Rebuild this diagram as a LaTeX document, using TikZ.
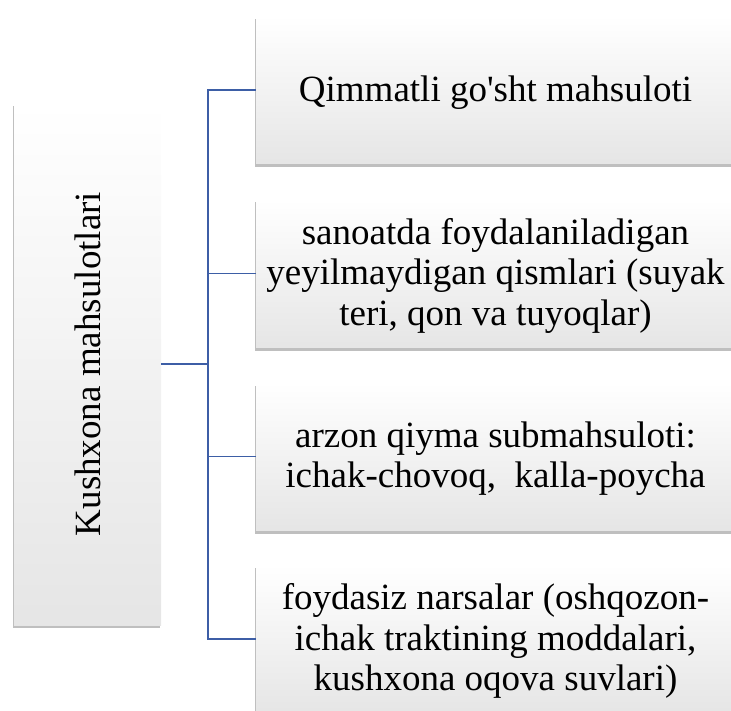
\documentclass[tikz,border=0pt]{standalone}
\usepackage{fontspec}
\setmainfont{Liberation Serif}
\usetikzlibrary{shadows}
\definecolor{linkblue}{HTML}{3D5EA6}
\tikzset{
  box/.style={draw=none, top color=white, bottom color=gray!20, inner sep=0pt,
    drop shadow={shadow xshift=-1.5pt, shadow yshift=-3pt, opacity=0.25, fill=black}},
  label/.style={font=\fontsize{37}{40.5}\selectfont, align=center},
  link/.style={draw=linkblue, line width=1.8pt}
}
\begin{document}
\begin{tikzpicture}[x=1pt,y=1pt]
\useasboundingbox (0,0) rectangle (731,-711);
\clip (0,0) rectangle (731,-711);
\node[box, minimum width=147pt, minimum height=522pt] (root) at (87.5,-364) {};
\node[label, rotate=90] (roottext) at (root.center) {Kushxona mahsulotlari};
\node[box, minimum width=479pt, minimum height=148pt] (b1) at (495.5,-90) {};
\node[box, minimum width=479pt, minimum height=148pt] (b2) at (495.5,-273.5) {};
\node[box, minimum width=479pt, minimum height=148pt] (b3) at (495.5,-456.5) {};
\node[box, minimum width=479pt, minimum height=148pt] (b4) at (495.5,-639) {};
\node[label] (t1) at ([yshift=-3pt]b1.center) {Qimmatli go\textquotesingle sht mahsuloti};
\node[label] (t2) at ([yshift=-2pt]b2.center) {sanoatda foydalaniladigan\\yeyilmaydigan qismlari (suyak\\teri, qon va tuyoqlar)};
\node[label] (t3) at ([yshift=-2pt]b3.center) {arzon qiyma submahsuloti:\\ichak-chovoq,\ \ kalla-poycha};
\node[label] (t4) at ([yshift=-2pt]b4.center) {foydasiz narsalar (oshqozon-\\ichak traktining moddalari,\\kushxona oqova suvlari)};
\coordinate (fork) at (208,-364);
\draw[link] (root.east) -- (fork);
\draw[link] (fork) |- (b1.west);
\draw[link] (fork) |- (b2.west);
\draw[link] (fork) |- (b3.west);
\draw[link] (fork) |- (b4.west);
\end{tikzpicture}
\end{document}
